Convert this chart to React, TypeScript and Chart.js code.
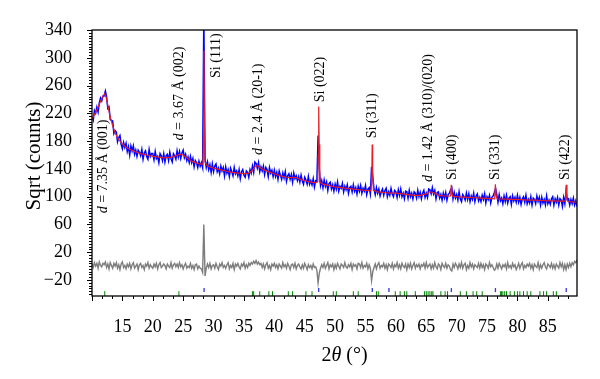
import React, { useEffect, useRef } from 'react';
import { Chart, registerables } from 'chart.js';

Chart.register(...registerables);

// ---- data -------------------------------------------------------------
// observed / difference profiles sampled on a regular 2θ grid
const THETA_START = 10;
const THETA_STEP = 0.2;

const observedCounts = [
  215, 210, 224, 220, 229, 222, 235, 242, 238, 245,
  245, 252, 244, 227, 229, 211, 210, 209, 191, 195,
  193, 179, 185, 188, 175, 169, 178, 171, 177, 165,
  172, 160, 173, 166, 173, 161, 167, 158, 167, 164,
  159, 168, 154, 163, 166, 158, 154, 168, 158, 162,
  162, 153, 165, 155, 158, 149, 162, 159, 152, 162,
  150, 159, 161, 152, 164, 155, 150, 162, 159, 154,
  166, 157, 165, 155, 163, 167, 156, 161, 152, 157,
  149, 158, 149, 155, 143, 152, 149, 142, 151, 144,
  149, 142, 360, 154, 142, 150, 139, 146, 135, 147,
  136, 144, 147, 136, 141, 133, 144, 137, 142, 130,
  143, 134, 139, 129, 141, 136, 130, 142, 133, 137,
  130, 139, 126, 136, 139, 131, 128, 137, 135, 128,
  139, 134, 144, 135, 150, 148, 141, 149, 136, 143,
  137, 144, 132, 142, 139, 129, 142, 134, 138, 129,
  138, 129, 135, 125, 137, 131, 125, 134, 127, 136,
  122, 130, 133, 125, 132, 121, 134, 126, 130, 123,
  129, 121, 131, 123, 118, 128, 124, 118, 129, 118,
  123, 117, 126, 114, 123, 122, 188, 140, 116, 123,
  113, 124, 115, 121, 109, 119, 121, 111, 117, 108,
  118, 111, 121, 108, 115, 112, 119, 107, 115, 110,
  117, 105, 113, 115, 107, 117, 108, 113, 104, 115,
  108, 116, 105, 112, 108, 116, 103, 111, 113, 104,
  143, 128, 111, 103, 113, 105, 111, 101, 107, 111,
  102, 109, 112, 100, 107, 102, 112, 104, 100, 109,
  107, 99, 110, 102, 111, 100, 105, 97, 108, 107,
  98, 109, 100, 105, 97, 107, 105, 98, 109, 100,
  106, 97, 105, 109, 99, 105, 99, 111, 110, 104,
  113, 104, 109, 97, 106, 107, 98, 103, 95, 105,
  98, 106, 95, 103, 105, 110, 113, 97, 106, 98,
  103, 95, 107, 97, 93, 103, 100, 95, 105, 96,
  104, 93, 101, 96, 105, 93, 101, 104, 94, 99,
  93, 102, 96, 104, 91, 100, 96, 102, 91, 99,
  101, 106, 112, 103, 92, 103, 94, 98, 90, 101,
  93, 102, 91, 98, 100, 89, 101, 94, 99, 92,
  102, 92, 99, 89, 97, 100, 92, 102, 90, 96,
  91, 100, 88, 98, 96, 90, 101, 93, 99, 88,
  99, 91, 96, 88, 101, 90, 95, 89, 97, 100,
  88, 97, 92, 99, 88, 97, 95, 86, 99, 90,
  107, 96, 97, 88, 96, 90, 98, 88, 94, 86,
];

const differenceCounts = [
  3, -2, 5, 0, 4, -3, 6, 1, -1, 4,
  2, 6, -2, 3, -4, 5, 1, -3, 4, 0,
  5, -3, 2, -5, 3, 6, -2, 1, -4, 3,
  -1, 4, -4, 2, 5, -3, 0, 3, -5, 2,
  4, -2, 1, -5, 3, 0, 5, -3, 2, -1,
  -3, 3, -1, 4, -4, 2, 5, -2, 0, 3,
  1, -4, 3, 0, -2, 5, -3, 2, 4, -1,
  3, -2, 5, -1, 2, -4, 1, 4, -3, 0,
  -2, 4, -3, 1, -5, 2, 3, -4, 0, -3,
  -4, -9, 60, -14, -3, 3, -2, 4, -4, 1,
  2, -3, 4, -1, -5, 3, 0, 5, -2, 1,
  -3, 2, 5, -4, 1, -2, 4, -5, 3, 0,
  4, -1, -4, 3, 0, 5, -3, 2, -2, 4,
  1, 5, 3, 7, 4, 8, 3, 6, 2, 4,
  -2, 3, -4, 2, 5, -3, 1, -5, 3, 0,
  4, -2, 2, -4, 3, 0, -3, 5, -1, 2,
  -3, 4, 0, -5, 2, 3, -2, 4, -4, 1,
  3, -1, -4, 2, -3, 4, 0, -5, 2, -2,
  1, -4, 3, -2, -1, -6, -24, -10, -3, 2,
  -2, 4, -3, 1, 5, -4, 2, -1, 3, -5,
  2, -3, 4, 0, -4, 3, 1, -2, 5, -1,
  -3, 2, -1, 4, -5, 3, 0, 2, -4, 4,
  3, -2, 5, -3, 1, -1, 4, -4, 2, -3,
  -21, -8, -2, 3, -4, 2, 5, -3, 1, -1,
  4, -3, 2, -5, 3, 1, -2, 4, -4, 2,
  -1, 5, -3, 2, -4, 4, 0, -2, 3, -5,
  3, -2, 4, -4, 1, 5, -3, 2, -1, 3,
  -4, 2, 0, 4, -3, 5, -2, 1, 3, -4,
  2, -3, 5, -1, -4, 3, 1, -5, 4, 0,
  -2, 4, -3, 2, 0, -5, -7, 3, -2, 4,
  1, -4, 3, -2, 5, -3, 2, 4, -5, 1,
  -3, 5, -1, 3, -4, 2, 0, -2, 4, -3,
  4, -2, 2, -5, 3, 1, -3, 5, -1, 2,
  -2, -6, -4, 3, -3, 4, 0, -4, 2, -1,
  3, -4, 5, -2, 1, -3, 4, -1, 2, -5,
  -1, 4, -3, 2, 5, -4, 1, -2, 3, 0,
  4, -3, 2, -5, 3, 0, -2, 5, -4, 2,
  -3, 2, 5, -1, -4, 3, 1, -2, 4, -3,
  2, -4, 3, 0, -3, 5, -1, 4, -5, 2,
  -5, 3, -2, 4, -1, 5, 2, 7, 5, 9,
];

// calculated (fitted) profile
const calcTheta = [
  10.0, 10.4, 10.8, 11.2, 11.6, 11.9, 12.1, 12.3, 12.6, 13.0,
  13.4, 13.8, 14.2, 14.6, 15.0, 15.5, 16.0, 17.0, 18.0, 19.0,
  20.0, 21.0, 22.0, 23.0, 23.8, 24.4, 25.0, 25.6, 26.2, 27.0,
  27.8, 28.25, 28.35, 28.42, 28.5, 28.6, 29.0, 30.0, 31.0, 32.0,
  33.0, 34.0, 35.0, 35.8, 36.4, 36.9, 37.2, 37.6, 38.2, 39.0,
  40.0, 41.0, 42.0, 42.8, 43.4, 44.0, 45.0, 46.0, 46.8, 47.15,
  47.22, 47.3, 47.38, 47.48, 48.0, 49.0, 50.0, 51.0, 52.0, 53.0,
  54.0, 55.0, 55.9, 56.03, 56.1, 56.18, 56.3, 57.0, 58.0, 59.0,
  60.0, 61.0, 62.0, 63.0, 64.0, 65.0, 65.6, 66.2, 67.0, 68.0,
  69.0, 69.12, 69.25, 69.4, 70.0, 71.0, 72.0, 73.0, 74.0, 75.0,
  76.25, 76.37, 76.5, 76.7, 78.0, 79.0, 80.0, 81.0, 82.0, 83.0,
  84.0, 85.0, 86.0, 87.0, 87.9, 88.02, 88.15, 88.3, 89.0, 89.8,
];
const calcCounts = [
  212, 218, 225, 233, 241, 246, 248, 244, 232, 215,
  202, 192, 185, 180, 176, 172, 169, 165, 162, 160,
  158, 157, 156, 157, 159, 161, 160, 156, 152, 149,
  147, 147, 190, 310, 200, 150, 144, 141, 139, 137,
  135, 134, 133, 134, 138, 144, 145, 142, 139, 136,
  133, 130, 128, 127.5, 128, 126, 123, 121, 120, 122,
  160, 230, 175, 121, 118, 116, 114, 113, 112, 111,
  110, 109, 108.5, 125, 175, 140, 109, 107, 106, 105,
  105, 104, 103, 102, 102, 104, 107, 106, 102, 101,
  101, 117, 103, 100.5, 100, 99.5, 99, 98.5, 98, 97.5,
  97, 118, 101, 97, 96.5, 96, 96, 95.5, 95, 95,
  94.5, 94, 94, 93.5, 93.5, 117, 96, 93, 92.5, 92,
];

// reflection markers (2θ)
const phaseReflections = [
  12.1, 24.3, 36.4, 36.6, 37.6, 39.1, 39.7, 42.3, 43.0, 45.2,
  46.2, 49.7, 50.2, 53.0, 53.8, 56.8, 57.1, 59.9, 60.7, 61.4,
  61.8, 63.2, 64.7, 65.0, 65.3, 65.6, 65.9, 66.1, 67.4, 68.1,
  68.5, 70.6, 71.6, 72.7, 73.3, 74.2, 77.2, 77.4, 77.6, 77.9,
  78.2, 78.8, 79.5, 80.0, 80.4, 81.0, 81.6, 82.2, 83.7, 84.3,
  84.8, 85.9, 86.4,
];
const siliconReflections = [28.44, 47.3, 56.12, 58.86, 69.13, 76.38, 88.03];

// axis ticks
const xTickLabels = [15, 20, 25, 30, 35, 40, 45, 50, 55, 60, 65, 70, 75, 80, 85];
const yTickLabels = [-20, 20, 60, 100, 140, 180, 220, 260, 300, 340];

// peak annotations (text, 2θ position, starting level in counts)
const annotationTexts = [
  ['d', ' = 7.35 Å (001)'],
  ['d', ' = 3.67 Å (002)'],
  ['', 'Si (111)'],
  ['d', ' = 2.4 Å (20-1)'],
  ['', 'Si (022)'],
  ['', 'Si (311)'],
  ['d', ' = 1.42 Å (310)/(020)'],
  ['', 'Si (400)'],
  ['', 'Si (331)'],
  ['', 'Si (422)'],
];
const annotationTheta = [11.9, 24.3, 30.5, 37.3, 47.5, 56.2, 65.3, 69.3, 76.4, 87.9];
const annotationLevel = [76, 181, 271, 160, 236, 184, 121, 124, 124, 124];

// ---- style ------------------------------------------------------------
const FONT = "'Liberation Serif', 'Times New Roman', serif";
const X_MIN = 10;
const X_MAX = 89.8;
const Y_MIN = -43;
const Y_MAX = 340;
const SI_MARK_LEVEL = -34.5;
const PHASE_MARK_LEVEL = -39.5;

const decorations = {
  id: 'decorations',
  afterDraw(chart: any) {
    const { ctx, chartArea: a, scales } = chart;
    const xs = scales.x;
    const ys = scales.y;
    ctx.save();
    ctx.strokeStyle = '#000';
    ctx.fillStyle = '#000';

    // ticks
    ctx.lineWidth = 1;
    ctx.beginPath();
    for (let m = 10; m <= 90; m += 5) {
      const vals = [m, m + 5 / 3, m + 10 / 3];
      vals.forEach((v, k) => {
        if (v < X_MIN - 1e-6 || v > X_MAX + 1e-6) return;
        const px = Math.round(xs.getPixelForValue(v)) + 0.5;
        const len = k === 0 ? 5 : 3;
        ctx.moveTo(px, a.bottom);
        ctx.lineTo(px, a.bottom + len);
      });
    }
    for (let v = -40; v <= Y_MAX; v += 4) {
      if (v < Y_MIN) continue;
      const py = Math.round(ys.getPixelForValue(v)) + 0.5;
      const major = (v + 20) % 40 === 0;
      const len = major ? 5 : 3;
      ctx.moveTo(a.left - len, py);
      ctx.lineTo(a.left, py);
    }
    ctx.stroke();

    // frame
    ctx.lineWidth = 1.3;
    ctx.strokeRect(a.left, a.top, a.right - a.left, a.bottom - a.top);

    // annotations
    ctx.textBaseline = 'middle';
    ctx.textAlign = 'left';
    annotationTexts.forEach((parts, i) => {
      const px = xs.getPixelForValue(annotationTheta[i]);
      const py = ys.getPixelForValue(annotationLevel[i]);
      ctx.save();
      ctx.translate(px, py);
      ctx.rotate(-Math.PI / 2);
      let off = 0;
      if (parts[0]) {
        ctx.font = `italic 14px ${FONT}`;
        ctx.fillText(parts[0], off, 0);
        off += ctx.measureText(parts[0]).width;
      }
      ctx.font = `14px ${FONT}`;
      ctx.fillText(parts[1], off, 0);
      ctx.restore();
    });

    // x title
    ctx.textBaseline = 'alphabetic';
    const xParts: [string, boolean][] = [['2', false], ['θ', true], [' (°)', false]];
    let total = 0;
    xParts.forEach(([t, it]) => {
      ctx.font = `${it ? 'italic ' : ''}20px ${FONT}`;
      total += ctx.measureText(t).width;
    });
    let cx = 344.5 - total / 2;
    xParts.forEach(([t, it]) => {
      ctx.font = `${it ? 'italic ' : ''}20px ${FONT}`;
      ctx.fillText(t, cx, 361);
      cx += ctx.measureText(t).width;
    });

    // y title
    ctx.save();
    ctx.translate(40, 156);
    ctx.rotate(-Math.PI / 2);
    ctx.textAlign = 'center';
    ctx.font = `21px ${FONT}`;
    ctx.fillText('Sqrt (counts)', 0, 0);
    ctx.restore();

    ctx.restore();
  },
};

export default function App() {
  const ref = useRef<HTMLCanvasElement>(null);

  useEffect(() => {
    document.body.style.margin = '0';
    const gridTheta = (i: number) => +(THETA_START + i * THETA_STEP).toFixed(2);
    const obsData = observedCounts.map((v, i) => ({ x: gridTheta(i), y: v }));
    const diffData = differenceCounts.map((v, i) => ({ x: gridTheta(i), y: v }));
    const calcData = calcTheta.map((t, i) => ({ x: t, y: calcCounts[i] }));
    const phaseData = phaseReflections.map((t) => ({ x: t, y: PHASE_MARK_LEVEL }));
    const siData = siliconReflections.map((t) => ({ x: t, y: SI_MARK_LEVEL }));

    const chart = new Chart(ref.current as HTMLCanvasElement, {
      type: 'line',
      data: {
        datasets: [
          {
            label: 'calc',
            data: calcData,
            borderColor: 'rgb(232,30,36)',
            borderWidth: 1.2,
            pointRadius: 0,
            order: 0,
          },
          {
            label: 'obs',
            data: obsData,
            borderColor: 'rgb(0,0,255)',
            borderWidth: 1.5,
            pointRadius: 0,
            order: 1,
          },
          {
            label: 'diff',
            data: diffData,
            borderColor: 'rgb(125,125,125)',
            borderWidth: 1.4,
            pointRadius: 0,
            order: 2,
          },
          {
            label: 'phase',
            data: phaseData,
            showLine: false,
            pointStyle: 'line',
            pointRotation: 90,
            pointRadius: 2.4,
            pointBorderColor: 'rgb(0,135,0)',
            pointBorderWidth: 1,
            borderColor: 'rgb(0,135,0)',
            order: 3,
          },
          {
            label: 'si',
            data: siData,
            showLine: false,
            pointStyle: 'line',
            pointRotation: 90,
            pointRadius: 2,
            pointBorderColor: 'rgb(50,50,230)',
            pointBorderWidth: 1.3,
            borderColor: 'rgb(50,50,230)',
            order: 3,
          },
        ] as any,
      },
      options: {
        animation: false,
        responsive: false,
        maintainAspectRatio: false,
        devicePixelRatio: 1,
        parsing: false,
        normalized: true,
        events: [],
        layout: { padding: { left: 0, right: 23, top: 30, bottom: 0 } },
        plugins: {
          legend: { display: false },
          tooltip: { enabled: false },
        },
        scales: {
          x: {
            type: 'linear',
            min: X_MIN,
            max: X_MAX,
            grid: { display: false },
            border: { display: false },
            afterBuildTicks: (s: any) => {
              s.ticks = xTickLabels.map((v) => ({ value: v }));
            },
            afterFit: (s: any) => {
              s.height = 83;
            },
            ticks: {
              color: '#000',
              padding: 12,
              maxRotation: 0,
              autoSkip: false,
              font: { family: FONT, size: 18 },
            },
          },
          y: {
            type: 'linear',
            min: Y_MIN,
            max: Y_MAX,
            grid: { display: false },
            border: { display: false },
            afterBuildTicks: (s: any) => {
              s.ticks = yTickLabels.map((v) => ({ value: v }));
            },
            afterFit: (s: any) => {
              s.width = 92;
            },
            ticks: {
              color: '#000',
              padding: 12,
              autoSkip: false,
              font: { family: FONT, size: 18 },
              callback: (v: any) => (Number(v) < 0 ? '\u2212' + Math.abs(Number(v)) : String(v)),
            },
          },
        },
      } as any,
      plugins: [decorations],
    });
    return () => chart.destroy();
  }, []);

  return (
    <div style={{ position: 'absolute', left: 0, top: 0, width: 600, height: 379, background: '#fff' }}>
      <canvas ref={ref} width={600} height={379} style={{ display: 'block', width: 600, height: 379 }} />
    </div>
  );
}
